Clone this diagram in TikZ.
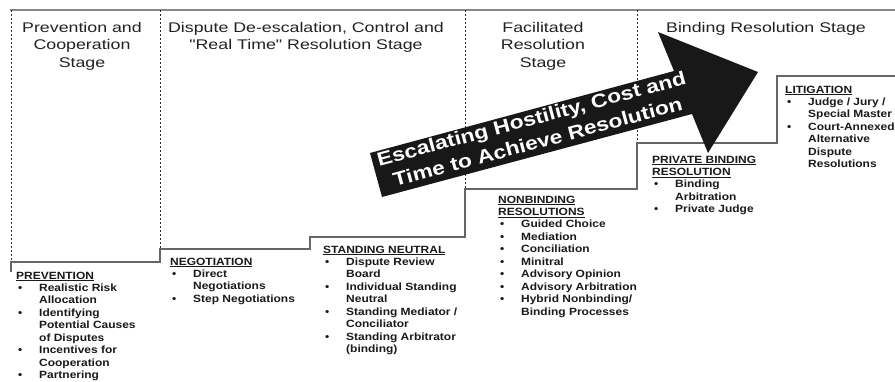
\documentclass[tikz,border=0pt]{standalone}
\usepackage{fontspec}
\setmainfont{Liberation Sans}
\newfontfamily\headfam[FakeStretch=1.27]{Liberation Sans}
\newfontfamily\lstfam[FakeStretch=1.14]{Liberation Sans}
\newfontfamily\arrfam[FakeStretch=1.2]{Liberation Sans}
\definecolor{headc}{HTML}{222222}
\definecolor{lstc}{HTML}{1A1A1A}
\definecolor{stepc}{HTML}{666666}
\definecolor{topc}{HTML}{888888}
\definecolor{sepc}{HTML}{2A2A2A}
\definecolor{arrc}{HTML}{181818}
\newcommand\lsthd[1]{\underline{#1}}
\newcommand\lstbi{\hspace*{2pt}\makebox[21pt][l]{\textbullet}}
\newcommand\lstci{\hspace*{23pt}}
\renewcommand\arraystretch{1}
\begin{document}
\begin{tikzpicture}[x=1pt,y=-1pt,
  hd/.style={anchor=base, inner sep=0pt, text=headc, font=\headfam\fontsize{14}{17.5}\selectfont},
  lst/.style={anchor=base west, inner sep=0pt, text=lstc, font=\lstfam\bfseries\fontsize{10.5}{12.45}\selectfont},
  stepline/.style={draw=stepc, line width=1.4pt},
  stagesep/.style={draw=sepc, line width=1pt, dash pattern=on 2.2pt off 1.8pt},
  topline/.style={draw=topc, line width=2pt},
  bigarrow/.style={fill=arrc, draw=none},
  arrtext/.style={inner sep=0pt, text=white, rotate=15, font=\arrfam\bfseries\fontsize{19}{24}\selectfont}]
\useasboundingbox (0,0) rectangle (895,381);
\fill[white] (0,0) rectangle (895,381);
% top rule
\draw[topline] (10,10) -- (895,10);
% stage separators
\draw[stagesep] (11,10) -- (11,262);
\draw[stagesep] (160,10) -- (160,249);
\draw[stagesep] (465,10) -- (465,189);
\draw[stagesep] (637,10) -- (637,143);
% staircase
\draw[stepline] (11,272) -- (11,262) -- (160,262) -- (160,249) -- (310,249) -- (310,237)
  -- (465,237) -- (465,189) -- (637,189) -- (637,143) -- (777,143) -- (777,76) -- (895,76);
% stage headings
\node[hd] (h1) at (82,32) {\begin{tabular}[t]{@{}c@{}}Prevention and\\Cooperation\\Stage\end{tabular}};
\node[hd] (h2) at (306,32) {\begin{tabular}[t]{@{}c@{}}Dispute De-escalation, Control and\\"Real Time" Resolution Stage\end{tabular}};
\node[hd] (h3) at (543,32) {\begin{tabular}[t]{@{}c@{}}Facilitated\\Resolution\\Stage\end{tabular}};
\node[hd] (h4) at (766,32) {\begin{tabular}[t]{@{}c@{}}Binding Resolution Stage\end{tabular}};
% escalation arrow
\fill[bigarrow] (370,153) -- (674,71) -- (658,32) -- (758,72) -- (708,153) -- (692,114) -- (382,197) -- cycle;
\node[arrtext] (arr) at (535,132) {\begin{tabular}{@{}c@{}}Escalating Hostility, Cost and\\Time to Achieve Resolution\end{tabular}};
% lists
\node[lst] (prev) at (16,279) {\begin{tabular}[t]{@{}l@{}}\lsthd{PREVENTION}\\
  \lstbi Realistic Risk\\ \lstci Allocation\\
  \lstbi Identifying\\ \lstci Potential Causes\\ \lstci of Disputes\\
  \lstbi Incentives for\\ \lstci Cooperation\\
  \lstbi Partnering\end{tabular}};
\node[lst] (neg) at (170,265) {\begin{tabular}[t]{@{}l@{}}\lsthd{NEGOTIATION}\\
  \lstbi Direct\\ \lstci Negotiations\\
  \lstbi Step Negotiations\end{tabular}};
\node[lst] (stand) at (323,253) {\begin{tabular}[t]{@{}l@{}}\lsthd{STANDING NEUTRAL}\\
  \lstbi Dispute Review\\ \lstci Board\\
  \lstbi Individual Standing\\ \lstci Neutral\\
  \lstbi Standing Mediator /\\ \lstci Conciliator\\
  \lstbi Standing Arbitrator\\ \lstci (binding)\end{tabular}};
\node[lst] (nonb) at (498,203) {\begin{tabular}[t]{@{}l@{}}\lsthd{NONBINDING}\\ \lsthd{RESOLUTIONS}\\
  \lstbi Guided Choice\\
  \lstbi Mediation\\
  \lstbi Conciliation\\
  \lstbi Minitral\\
  \lstbi Advisory Opinion\\
  \lstbi Advisory Arbitration\\
  \lstbi Hybrid Nonbinding/\\ \lstci Binding Processes\end{tabular}};
\node[lst] (priv) at (652,163) {\begin{tabular}[t]{@{}l@{}}\lsthd{PRIVATE BINDING}\\ \lsthd{RESOLUTION}\\
  \lstbi Binding\\ \lstci Arbitration\\
  \lstbi Private Judge\end{tabular}};
\node[lst] (lit) at (785,93) {\begin{tabular}[t]{@{}l@{}}\lsthd{LITIGATION}\\
  \lstbi Judge / Jury /\\ \lstci Special Master\\
  \lstbi Court-Annexed\\ \lstci Alternative\\ \lstci Dispute\\ \lstci Resolutions\end{tabular}};
\end{tikzpicture}
\end{document}
